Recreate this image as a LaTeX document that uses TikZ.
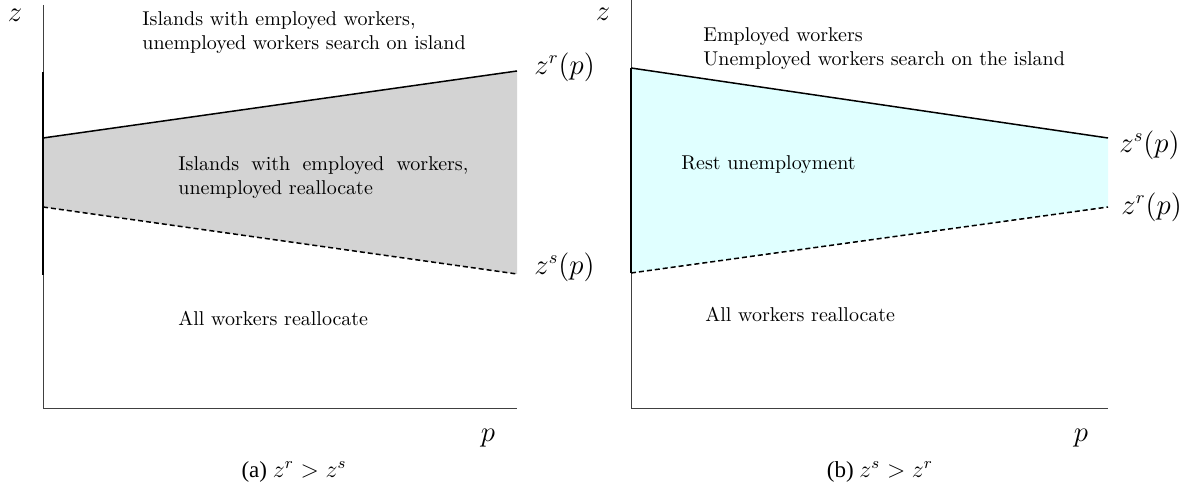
\documentclass[tikz,border=0pt]{standalone}
\usepackage{fontspec}
\newfontfamily\capfont{Liberation Serif}
\definecolor{grayfill}{HTML}{D3D3D3}
\definecolor{cyanfill}{HTML}{E0FFFF}
\begin{document}
\begin{tikzpicture}[x=0.5pt,y=-0.5pt,
  axis/.style={line width=0.5pt, black!75},
  bound/.style={line width=0.75pt, black},
  bounddash/.style={bound, dash pattern=on 2.5pt off 1.5pt},
  lbl/.style={font=\fontsize{13.5}{16}\selectfont, inner sep=0pt},
  txt/.style={anchor=base west, align=left, inner sep=0pt, font=\fontsize{10}{12}\selectfont},
  captext/.style={inner sep=0pt, font=\capfont\fontsize{11.5}{14}\selectfont}]
\useasboundingbox (0,0) rectangle (1189,490);
% ---------- left panel ----------
\coordinate (A1) at (43,138);
\coordinate (A2) at (517,71);
\coordinate (B1) at (43,207);
\coordinate (B2) at (517,274);
\coordinate (LT) at (43,5);
\coordinate (LO) at (43,409);
\coordinate (LR) at (517,409);
\coordinate (LM1) at (43,72);
\coordinate (LM2) at (43,275);
\fill[grayfill] (A1) -- (A2) -- (B2) -- (B1) -- cycle;
\draw[axis] (LT) -- (LO) -- (LR);
\draw[bound] (LM1) -- (LM2);
\draw[bound] (A1) -- (A2);
\draw[bounddash] (B1) -- (B2);
\node[lbl] (lz) at (15,15) {$z$};
\node[lbl] (lp) at (488,438) {$p$};
\node[lbl, anchor=west] (lzr) at (534,67) {$z^r(p)$};
\node[lbl, anchor=west] (lzs) at (534,267) {$z^s(p)$};
\node[txt] (lt1) at (142,50) {Islands with employed workers,\\unemployed workers search on island};
\node[txt, text width=145pt, align=justify] (lt2) at (178,171) {Islands with employed workers, unemployed reallocate};
\node[txt] (lt3) at (178,326) {All workers reallocate};
\node[captext] (lcap) at (294,472) {(a) $z^r>z^s$};
% ---------- right panel ----------
\coordinate (C1) at (631,68);
\coordinate (C2) at (1108,138);
\coordinate (D1) at (631,273);
\coordinate (D2) at (1108,207);
\coordinate (RT) at (631,0);
\coordinate (RO) at (631,409);
\coordinate (RR) at (1108,409);
\fill[cyanfill] (C1) -- (C2) -- (D2) -- (D1) -- cycle;
\draw[axis] (RT) -- (RO) -- (RR);
\draw[bound] (C1) -- (D1);
\draw[bound] (C1) -- (C2);
\draw[bounddash] (D1) -- (D2);
\node[lbl] (rz) at (603,14) {$z$};
\node[lbl] (rp) at (1081,438) {$p$};
\node[lbl, anchor=west] (rzs) at (1119,145) {$z^s(p)$};
\node[lbl, anchor=west] (rzr) at (1121,207) {$z^r(p)$};
\node[txt] (rt1) at (703,66) {Employed workers\\Unemployed workers search on the island};
\node[txt] (rt2) at (681,170) {Rest unemployment};
\node[txt] (rt3) at (705,322) {All workers reallocate};
\node[captext] (rcap) at (880,472) {(b) $z^s>z^r$};
\end{tikzpicture}
\end{document}
